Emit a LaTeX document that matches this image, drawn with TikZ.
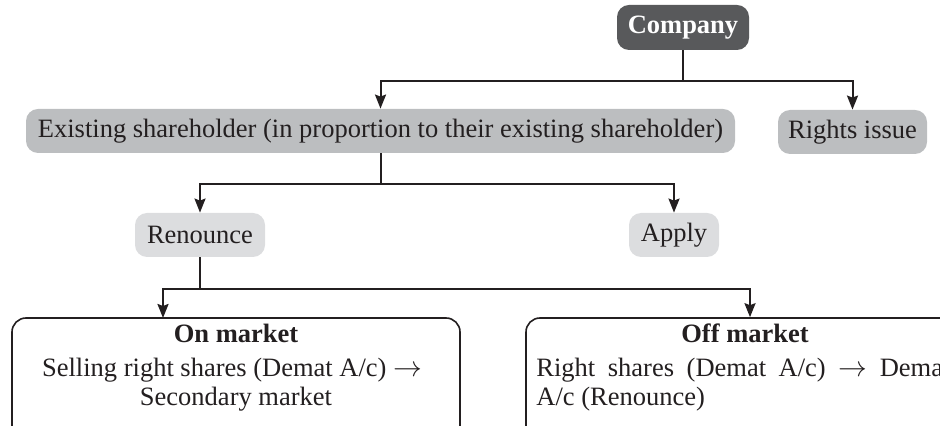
\documentclass[tikz,border=0pt]{standalone}
\usepackage{fontspec}
\setmainfont{Liberation Serif}
\usetikzlibrary{arrows.meta}
\definecolor{ink}{HTML}{231F20}
\definecolor{darkfill}{HTML}{58595B}
\definecolor{midfill}{HTML}{BCBEC0}
\definecolor{lightfill}{HTML}{DCDDDF}
\begin{document}
\begin{tikzpicture}[x=0.5pt,y=-0.5pt,
  font=\fontsize{13.25}{15.9}\selectfont,
  pill/.style={rounded corners=6pt, inner sep=0pt, text=ink, minimum height=22pt},
  conn/.style={draw=ink, line width=1pt},
  arr/.style={conn, -{Stealth[length=7pt,width=5.5pt,inset=1pt]}},
  mktbox/.style={draw=ink, line width=0.8pt, rounded corners=7pt, fill=white, inner sep=0pt,
                 minimum width=224pt, minimum height=66pt},
  txt/.style={inner sep=0pt, text=ink}]
\useasboundingbox (0,0) rectangle (940,426);
\clip (0,0) rectangle (940,426);
% boxes
\node[pill, fill=darkfill, text=white, font=\fontsize{13.25}{15.9}\selectfont\bfseries,
      minimum width=66pt, minimum height=22.5pt] (company) at (683,27.5) {Company};
\node[pill, fill=midfill, minimum width=354.5pt] (exist) at (380.5,131)
  {Existing shareholder (in proportion to their existing shareholder)};
\node[pill, fill=midfill, minimum width=74.5pt] (rights) at (852.5,132) {Rights issue};
\node[pill, fill=lightfill, minimum width=65pt, minimum height=22pt] (ren) at (200,235) {Renounce};
\node[pill, fill=lightfill, minimum width=45pt] (apply) at (674,235) {Apply};
\node[mktbox] (on) at (236,384) {};
\node[mktbox] (off) at (750,384) {};
% texts in market boxes
\node[txt, anchor=base, font=\fontsize{13.25}{15.9}\selectfont\bfseries] (ontitle) at (236,343) {On market};
\node[txt, anchor=base] (online1) at (232,377) {Selling right shares (Demat A/c) $\rightarrow$};
\node[txt, anchor=base] (online2) at (236,405) {Secondary market};
\node[txt, anchor=base, font=\fontsize{13.25}{15.9}\selectfont\bfseries] (offtitle) at (745,343) {Off market};
\node[txt, anchor=base west] (offline1) at (536,377)
  {\hbox to 207pt{Right\hfil\ shares\hfil\ (Demat\hfil\ A/c)\hfil\ $\rightarrow$\hfil\ Demat}};
\node[txt, anchor=base west] (offline2) at (536,405) {A/c (Renounce)};
% connectors
\coordinate (j1) at (683,81);
\coordinate (j2) at (380.5,184);
\coordinate (j3) at (200,289);
\coordinate (onin) at (163,318);
\draw[conn] (company.south) -- (j1);
\draw[arr] (j1) -| (exist.north);
\draw[arr] (j1) -| (rights.north);
\draw[conn] (exist.south) -- (j2);
\draw[arr] (j2) -| (ren.north);
\draw[arr] (j2) -| (apply.north);
\draw[conn] (ren.south) -- (j3);
\draw[arr] (j3) -| (onin);
\draw[arr] (j3) -| (off.north);
\end{tikzpicture}
\end{document}
